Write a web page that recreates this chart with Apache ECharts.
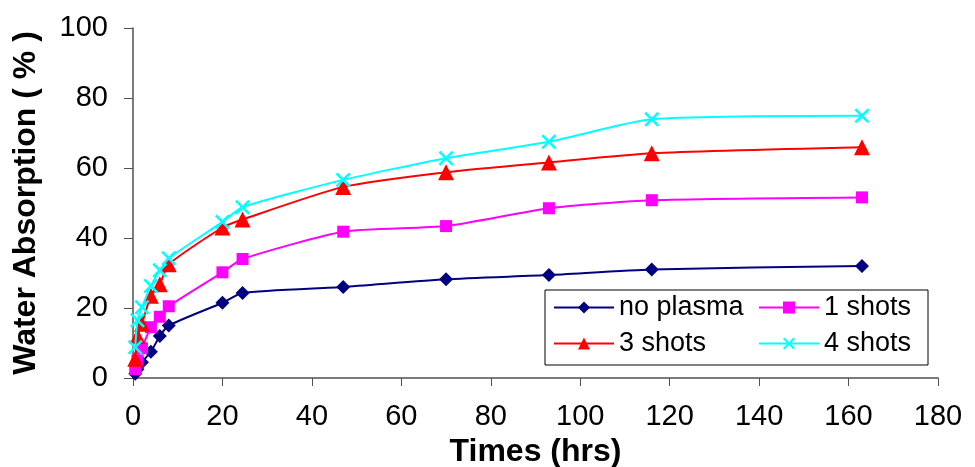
<!DOCTYPE html>
<html>
<head>
<meta charset="utf-8">
<script src="https://cdn.jsdelivr.net/npm/echarts@6/dist/echarts.min.js"></script>
<style>html,body{margin:0;padding:0;background:#fff;}#c{width:975px;height:467px;}</style>
</head>
<body>
<div id="c"></div>
<script>
const times = [0.5, 1, 2, 4, 6, 8, 20, 24.5, 47, 70, 93, 116, 163];
const noPlasma = [1.2, 2.5, 4.5, 7.5, 12, 15, 21.5, 24.3, 26, 28.2, 29.4, 31, 32];
const shots1 = [2.5, 5, 8.5, 14.5, 17.5, 20.5, 30.2, 34, 41.8, 43.4, 48.5, 50.8, 51.6];
const shots3 = [5.5, 12, 15.5, 23.5, 26.8, 32.5, 43, 45.3, 54.6, 58.8, 61.6, 64.2, 65.9];
const shots4 = [8.8, 16.5, 20.2, 26.3, 30.8, 34.2, 44.6, 48.8, 56.6, 62.8, 67.5, 73.9, 74.9];
const seriesNames = ['no plasma', '1 shots', '3 shots', '4 shots'];
const xTicks = [0, 20, 40, 60, 80, 100, 120, 140, 160, 180];
const yTicks = [0, 20, 40, 60, 80, 100];

const FONT = 'Liberation Sans, Arial, sans-serif';
const xMark = 'path://M0,1.2 L1.2,0 L5,3.8 L8.8,0 L10,1.2 L6.2,5 L10,8.8 L8.8,10 L5,6.2 L1.2,10 L0,8.8 L3.8,5 Z';
const styles = [
  {color: '#000080', symbol: 'diamond', size: 14},
  {color: '#FF00FF', symbol: 'rect', size: 12},
  {color: '#FF0000', symbol: 'triangle', size: 16},
  {color: '#00FFFF', symbol: xMark, size: 15}
];
const values = [noPlasma, shots1, shots3, shots4];

const series = values.map((v, i) => ({
  name: seriesNames[i],
  type: 'line',
  data: times.map((t, j) => [t, v[j]]),
  smooth: 0.2,
  symbol: styles[i].symbol,
  symbolSize: styles[i].size,
  showAllSymbol: true,
  lineStyle: {color: styles[i].color, width: 2},
  itemStyle: {color: styles[i].color},
  z: 2 + i
}));

const legendPos = [
  {left: 553, top: 294},
  {left: 758, top: 294},
  {left: 553, top: 330},
  {left: 758, top: 330}
];
const legends = seriesNames.map((n, i) => ({
  data: [n],
  left: legendPos[i].left,
  top: legendPos[i].top,
  padding: 0,
  itemWidth: 60,
  itemHeight: 15,
  itemGap: 6,
  z: 6,
  selectedMode: false,
  textStyle: {fontFamily: FONT, fontSize: 27, color: '#000'}
}));

const chart = echarts.init(document.getElementById('c'));
chart.setOption({
  animation: false,
  backgroundColor: '#fff',
  grid: {left: 133, right: 37, top: 28, bottom: 89, containLabel: false, outerBoundsMode: 'none'},
  xAxis: {
    type: 'value', min: 0, max: 180, interval: 20,
    name: 'Times (hrs)', nameLocation: 'middle', nameGap: 56,
    nameTextStyle: {fontFamily: FONT, fontSize: 32, fontWeight: 'bold', color: '#000'},
    axisLine: {show: true, lineStyle: {color: '#505050', width: 1.5}},
    axisTick: {show: true, length: 8, lineStyle: {color: '#505050'}},
    axisLabel: {fontFamily: FONT, fontSize: 29, color: '#000', margin: 24,
      formatter: v => xTicks.includes(v) ? String(v) : ''},
    splitLine: {show: false}
  },
  yAxis: {
    type: 'value', min: 0, max: 100, interval: 20,
    name: 'Water Absorption ( % )', nameLocation: 'middle', nameGap: 91, nameRotate: 90,
    nameTextStyle: {fontFamily: FONT, fontSize: 32, fontWeight: 'bold', color: '#000'},
    axisLine: {show: true, lineStyle: {color: '#505050', width: 1.5}},
    axisTick: {show: true, length: 9, lineStyle: {color: '#505050'}},
    axisLabel: {fontFamily: FONT, fontSize: 29, color: '#000', margin: 25,
      formatter: v => yTicks.includes(v) ? String(v) : ''},
    splitLine: {show: false}
  },
  legend: legends,
  graphic: [{
    type: 'rect',
    shape: {x: 545, y: 290, width: 383, height: 75},
    style: {fill: '#fff', stroke: '#000', lineWidth: 1},
    z: 3
  }],
  series: series
});
</script>
</body>
</html>
